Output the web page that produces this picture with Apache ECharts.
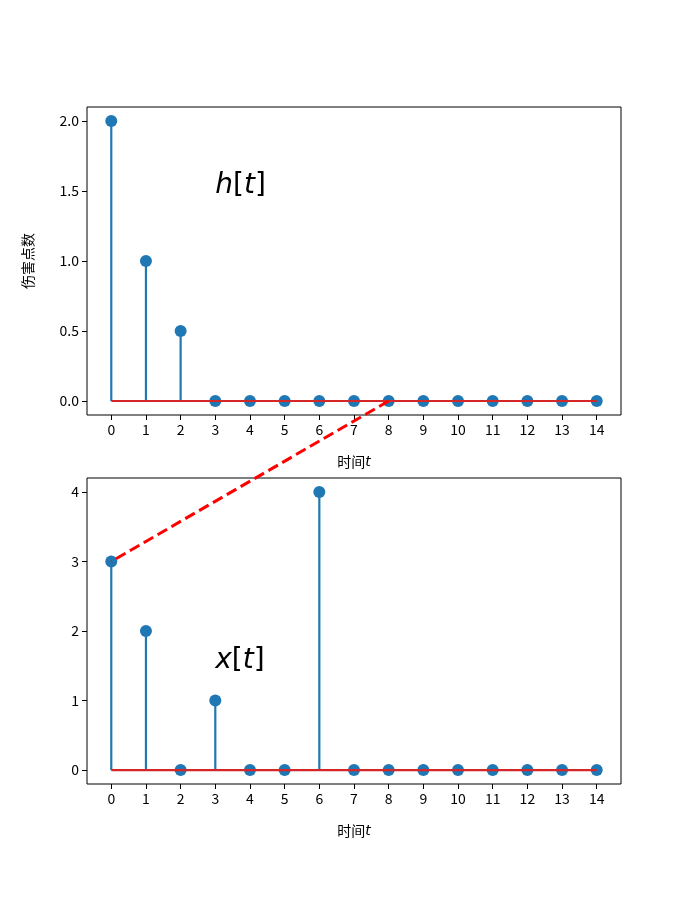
<!DOCTYPE html>
<html>
<head>
<meta charset="utf-8">
<script src="https://cdn.jsdelivr.net/npm/echarts@6/dist/echarts.min.js"></script>
<style>
  html, body { margin: 0; padding: 0; background: #fff; }
  #main { width: 690px; height: 897px; }
</style>
</head>
<body>
<div id="main"></div>
<script>
// 数据
var t = [0, 1, 2, 3, 4, 5, 6, 7, 8, 9, 10, 11, 12, 13, 14];
var h = [2, 1, 0.5, 0, 0, 0, 0, 0, 0, 0, 0, 0, 0, 0, 0];
var x = [3, 2, 0, 1, 0, 0, 4, 0, 0, 0, 0, 0, 0, 0, 0];
var hTicks = [0, 0.5, 1, 1.5, 2];
var xTicks = [0, 1, 2, 3, 4];

var FONT = '"Noto Sans CJK SC", "DejaVu Sans", sans-serif';
var BLUE = '#1f77b4';
var RED = '#d62728';

function pairs(vals) {
    return t.map(function (k, i) { return [k, vals[i]]; });
}

function stemSeries(idx, vals) {
    return {
        type: 'custom',
        xAxisIndex: idx,
        yAxisIndex: idx,
        data: pairs(vals),
        z: 2,
        renderItem: function (params, api) {
            var p0 = api.coord([api.value(0), 0]);
            var p1 = api.coord([api.value(0), api.value(1)]);
            return {
                type: 'line',
                shape: { x1: p0[0], y1: p0[1], x2: p1[0], y2: p1[1] },
                style: { stroke: BLUE, lineWidth: 2.2 }
            };
        }
    };
}

function markerSeries(idx, vals) {
    return {
        type: 'scatter',
        xAxisIndex: idx,
        yAxisIndex: idx,
        data: pairs(vals),
        symbolSize: 12,
        itemStyle: { color: BLUE, opacity: 1 },
        z: 3
    };
}

function baseSeries(idx) {
    return {
        type: 'line',
        xAxisIndex: idx,
        yAxisIndex: idx,
        data: [[t[0], 0], [t[t.length - 1], 0]],
        symbol: 'none',
        lineStyle: { color: RED, width: 2.2 },
        z: 4
    };
}

function xAxisOf(idx) {
    return {
        type: 'value',
        gridIndex: idx,
        min: -0.7,
        max: 14.7,
        name: '{z|时间}{i|t}',
        nameLocation: 'middle',
        nameGap: 40,
        nameTextStyle: {
            rich: {
                z: { fontFamily: FONT, fontSize: 14, color: '#000' },
                i: { fontFamily: 'DejaVu Sans', fontStyle: 'italic', fontSize: 14, color: '#000' }
            }
        },
        splitLine: { show: false },
        axisLine: { show: false, onZero: false },
        axisTick: { show: true, inside: false, length: 5, customValues: t, lineStyle: { color: '#000' } },
        axisLabel: { customValues: t, fontFamily: FONT, fontSize: 14, color: '#000', margin: 8 }
    };
}

var option = {
    backgroundColor: '#fff',
    animation: false,
    grid: [
        { left: 87, width: 534, top: 107, height: 308, show: true, borderColor: '#000', borderWidth: 1, backgroundColor: 'transparent' },
        { left: 87, width: 534, top: 478, height: 306, show: true, borderColor: '#000', borderWidth: 1, backgroundColor: 'transparent' }
    ],
    xAxis: [xAxisOf(0), xAxisOf(1)],
    yAxis: [
        {
            type: 'value',
            gridIndex: 0,
            min: -0.1,
            max: 2.1,
            name: '伤害点数',
            nameLocation: 'middle',
            nameGap: 52,
            nameTextStyle: { fontFamily: FONT, fontSize: 14, color: '#000' },
            splitLine: { show: false },
            axisLine: { show: false, onZero: false },
            axisTick: { show: true, inside: false, length: 5, customValues: hTicks, lineStyle: { color: '#000' } },
            axisLabel: {
                customValues: hTicks, fontFamily: FONT, fontSize: 14, color: '#000', margin: 8,
                formatter: function (v) { return v.toFixed(1); }
            }
        },
        {
            type: 'value',
            gridIndex: 1,
            min: -0.2,
            max: 4.2,
            splitLine: { show: false },
            axisLine: { show: false, onZero: false },
            axisTick: { show: true, inside: false, length: 5, customValues: xTicks, lineStyle: { color: '#000' } },
            axisLabel: { customValues: xTicks, fontFamily: FONT, fontSize: 14, color: '#000', margin: 8 }
        }
    ],
    series: [
        stemSeries(0, h), markerSeries(0, h), baseSeries(0),
        stemSeries(1, x), markerSeries(1, x), baseSeries(1)
    ]
};

var myChart = echarts.init(document.getElementById('main'), null, { renderer: 'canvas' });
myChart.setOption(option);

// 连接线和公式文字
var pA = myChart.convertToPixel({ gridIndex: 0 }, [8, 0]);
var pB = myChart.convertToPixel({ gridIndex: 1 }, [0, 3]);
var tH = myChart.convertToPixel({ gridIndex: 0 }, [3, 1.5]);
var tX = myChart.convertToPixel({ gridIndex: 1 }, [3, 1.5]);

var mathRich = {
    i: { fontFamily: 'DejaVu Sans', fontStyle: 'italic', fontSize: 28, fill: '#000' },
    r: { fontFamily: 'DejaVu Sans', fontSize: 28, fill: '#000' }
};

myChart.setOption({
    graphic: [
        {
            type: 'line',
            shape: { x1: pA[0], y1: pA[1], x2: pB[0], y2: pB[1] },
            style: { stroke: '#ff0000', lineWidth: 3, lineDash: [11, 5] },
            z: 100
        },
        {
            type: 'text',
            x: tH[0], y: tH[1] + 9,
            style: { text: '{i|h}{r|[}{i|t}{r|]}', rich: mathRich, verticalAlign: 'bottom' },
            z: 50
        },
        {
            type: 'text',
            x: tX[0], y: tX[1] + 9,
            style: { text: '{i|x}{r|[}{i|t}{r|]}', rich: mathRich, verticalAlign: 'bottom' },
            z: 50
        }
    ]
});
</script>
</body>
</html>
